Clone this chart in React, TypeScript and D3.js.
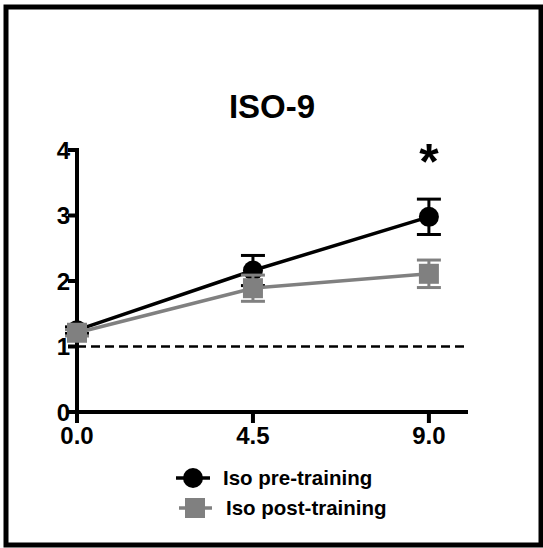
import React from "react";
import * as d3 from "d3";

const title = "ISO-9";
const timePoints = [0, 4.5, 9];
const xTickLabels = ["0.0", "4.5", "9.0"];
const yTicks = [0, 1, 2, 3, 4];
const preMean = [1.25, 2.16, 2.98];
const preErr = [0.05, 0.23, 0.27];
const postMean = [1.21, 1.89, 2.11];
const postErr = [0.05, 0.2, 0.21];
const seriesNames = ["Iso pre-training", "Iso post-training"];
const referenceValue = 1;
const significance = [{ x: 9, y: 4.0, label: "*" }];

const W = 543;
const H = 548;
const FONT = "'Liberation Sans', Arial, Helvetica, sans-serif";

export default function App() {
  const x = d3.scaleLinear().domain([0, 10]).range([77, 468]);
  const y = d3.scaleLinear().domain([0, 4]).range([412, 150]);
  const line = d3
    .line<number>()
    .x((_, i) => x(timePoints[i]))
    .y((d) => y(d));
  const black = "#000";
  const gray = "#808080";
  const axisW = 4;
  const cap = 12;
  const r = 10;
  const sq = 20;

  const errBars = (means: number[], errs: number[], color: string) =>
    means.map((m, i) => {
      const cx = x(timePoints[i]);
      const t = y(m + errs[i]);
      const b = y(m - errs[i]);
      return (
        <g key={i} stroke={color} strokeWidth={3}>
          <line x1={cx} x2={cx} y1={t} y2={b} />
          <line x1={cx - cap} x2={cx + cap} y1={t} y2={t} />
          <line x1={cx - cap} x2={cx + cap} y1={b} y2={b} />
        </g>
      );
    });

  return (
    <svg
      width={W}
      height={H}
      style={{ position: "absolute", left: 0, top: 0, background: "#fff" }}
      fontFamily={FONT}
    >
      <rect x={6} y={7} width={535} height={538} fill="#fff" stroke="#000" strokeWidth={5} />
      <text x={272} y={118} textAnchor="middle" fontSize={33} fontWeight="bold">
        {title}
      </text>

      {/* reference dashed line */}
      <line
        x1={x(0)}
        x2={x(9.9)}
        y1={y(referenceValue)}
        y2={y(referenceValue)}
        stroke="#000"
        strokeWidth={2.5}
        strokeDasharray="9,5"
      />

      {/* axes */}
      <g stroke="#000" strokeWidth={axisW}>
        <line x1={x(0)} x2={x(0)} y1={y(4) - 2} y2={y(0)} />
        <line x1={x(0) - 2} x2={x(10)} y1={y(0)} y2={y(0)} />
        {yTicks.map((t) => (
          <line key={t} x1={x(0) - 9} x2={x(0)} y1={y(t)} y2={y(t)} />
        ))}
        {timePoints.map((t) => (
          <line key={t} x1={x(t)} x2={x(t)} y1={y(0)} y2={y(0) + 11} />
        ))}
      </g>
      {yTicks.map((t) => (
        <text key={t} x={x(0) - 7} y={y(t) + 8.5} textAnchor="end" fontSize={24} fontWeight="bold">
          {t}
        </text>
      ))}
      {timePoints.map((t, i) => (
        <text key={t} x={x(t)} y={444} textAnchor="middle" fontSize={24} fontWeight="bold">
          {xTickLabels[i]}
        </text>
      ))}

      {/* pre-training series */}
      {errBars(preMean, preErr, black)}
      <path d={line(preMean) || ""} fill="none" stroke={black} strokeWidth={3.5} />
      {preMean.map((m, i) => (
        <circle key={i} cx={x(timePoints[i])} cy={y(m)} r={r} fill={black} />
      ))}

      {/* post-training series */}
      {errBars(postMean, postErr, gray)}
      <path d={line(postMean) || ""} fill="none" stroke={gray} strokeWidth={3.5} />
      {postMean.map((m, i) => (
        <rect
          key={i}
          x={x(timePoints[i]) - sq / 2}
          y={y(m) - sq / 2}
          width={sq}
          height={sq}
          fill={gray}
        />
      ))}

      {significance.map((s, i) => (
        <text key={i} x={x(s.x)} y={y(s.y) + 29} textAnchor="middle" fontSize={50} fontWeight="bold">
          {s.label}
        </text>
      ))}

      {/* legend */}
      <g>
        <line x1={176} x2={210} y1={478} y2={478} stroke={black} strokeWidth={3.5} />
        <circle cx={193} cy={478} r={r} fill={black} />
        <text x={223} y={485} fontSize={20.5} fontWeight="bold">
          {seriesNames[0]}
        </text>
        <line x1={179} x2={212} y1={508} y2={508} stroke={gray} strokeWidth={3.5} />
        <rect x={195 - sq / 2} y={508 - sq / 2} width={sq} height={sq} fill={gray} />
        <text x={226} y={515} fontSize={20.5} fontWeight="bold">
          {seriesNames[1]}
        </text>
      </g>
    </svg>
  );
}
